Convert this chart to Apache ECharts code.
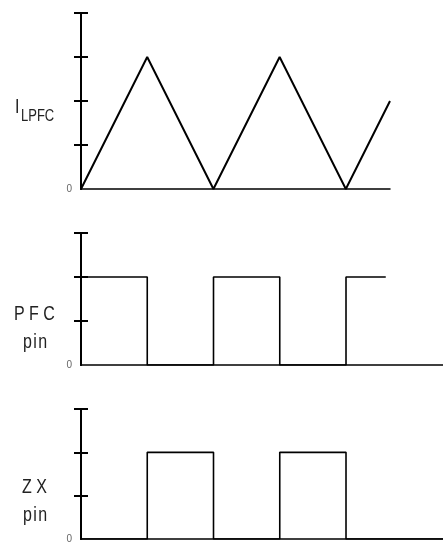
<!DOCTYPE html>
<html>
<head>
<meta charset="utf-8">
<script src="https://cdn.jsdelivr.net/npm/echarts@6/dist/echarts.min.js"></script>
<style>
  html, body { margin: 0; padding: 0; background: #fff; }
  #chart { width: 443px; height: 544px; }
</style>
</head>
<body>
<div id="chart"></div>
<script>
// Inductor current: triangular ramp (time in half-periods, value in tick units)
const currentTime = [0, 1, 2, 3, 4, 4.667];
const currentValue = [0, 3, 0, 3, 0, 2];

// PFC gate drive pin
const pfcTime = [0, 1, 1, 2, 2, 3, 3, 4, 4, 4.6];
const pfcValue = [2, 2, 0, 0, 2, 2, 0, 0, 2, 2];

// Zero-crossing detect pin
const zxTime = [0, 1, 1, 2, 2, 3, 3, 4, 4, 5.464];
const zxValue = [0, 0, 2, 2, 0, 0, 2, 2, 0, 0];

// Axis extents (tick units), tick positions above zero, and time spans
const yMaxes = [4, 3, 3];
const yTicks = [[1, 2, 3, 4], [1, 2, 3], [1, 2, 3]];
const xMaxes = [4.667, 5.464, 5.464];
const zeroLabel = '0';

const pairs = (xs, ys) => xs.map((x, i) => [x, ys[i]]);

const grids = [
  { left: 81, top: 13, width: 309, height: 176 },
  { left: 81, top: 233, right: 0, height: 132 },
  { left: 81, top: 409, right: 0, height: 132 }
];

const xAxes = xMaxes.map((m, i) => ({
  type: 'value', gridIndex: i, min: 0, max: m,
  axisLine: { show: true, onZero: false, lineStyle: { color: '#000', width: 1.5 } },
  axisTick: { show: false }, axisLabel: { show: false }, splitLine: { show: false }
}));

const tickStyle = { color: '#000', width: 2 };
const yAxes = [];
yMaxes.forEach((m, i) => {
  // outward ticks, axis line and the zero label
  yAxes.push({
    type: 'value', gridIndex: i, position: 'left', offset: 0,
    min: 0, max: m, interval: 1,
    axisLine: { show: true, onZero: false, lineStyle: { color: '#000', width: 2 } },
    axisTick: { show: true, inside: false, length: 7, lineStyle: tickStyle, customValues: yTicks[i] },
    axisLabel: {
      show: true, margin: 9, color: '#666', fontSize: 10,
      fontFamily: 'Liberation Sans',
      formatter: v => (v === 0 ? zeroLabel : '')
    },
    splitLine: { show: false }
  });
  // inward half of each tick, on the same left edge
  yAxes.push({
    type: 'value', gridIndex: i, position: 'left', offset: 0,
    min: 0, max: m, interval: 1,
    axisLine: { show: true, onZero: false, lineStyle: { color: '#000', width: 2 } },
    axisTick: { show: true, inside: true, length: 7, lineStyle: tickStyle, customValues: yTicks[i] },
    axisLabel: { show: false }, splitLine: { show: false }
  });
});

const series = [
  { type: 'line', xAxisIndex: 0, yAxisIndex: 0, data: pairs(currentTime, currentValue),
    symbol: 'none', lineStyle: { color: '#000', width: 2 }, silent: true, animation: false },
  { type: 'line', xAxisIndex: 1, yAxisIndex: 2, data: pairs(pfcTime, pfcValue),
    symbol: 'none', lineStyle: { color: '#000', width: 1.6 }, silent: true, animation: false },
  { type: 'line', xAxisIndex: 2, yAxisIndex: 4, data: pairs(zxTime, zxValue),
    symbol: 'none', lineStyle: { color: '#000', width: 1.6 }, silent: true, animation: false }
];

// Signal names beside each axis
const nameFont = '16px "Liberation Sans", Arial, sans-serif';
const subFont = '13px "Liberation Sans", Arial, sans-serif';
const nameColor = '#222';
const label = (text, x, y, font) => ({
  type: 'text', x: x, y: y, scaleY: 1.25, silent: true,
  style: { text: text, font: font, fill: nameColor, align: 'left', verticalAlign: 'bottom' }
});

const graphic = [
  label('I', 15, 117, nameFont),
  label('LPFC', 21, 124.5, subFont),
  label('P F C', 14, 324, nameFont),
  label('p\u200Ai\u200An', 23, 352, nameFont),
  label('Z X', 22, 497, nameFont),
  label('p\u200Ai\u200An', 23, 525, nameFont)
];

const chart = echarts.init(document.getElementById('chart'), null, { renderer: 'canvas' });
chart.setOption({
  animation: false,
  backgroundColor: '#fff',
  grid: grids,
  xAxis: xAxes,
  yAxis: yAxes,
  series: series,
  graphic: graphic
});
</script>
</body>
</html>
